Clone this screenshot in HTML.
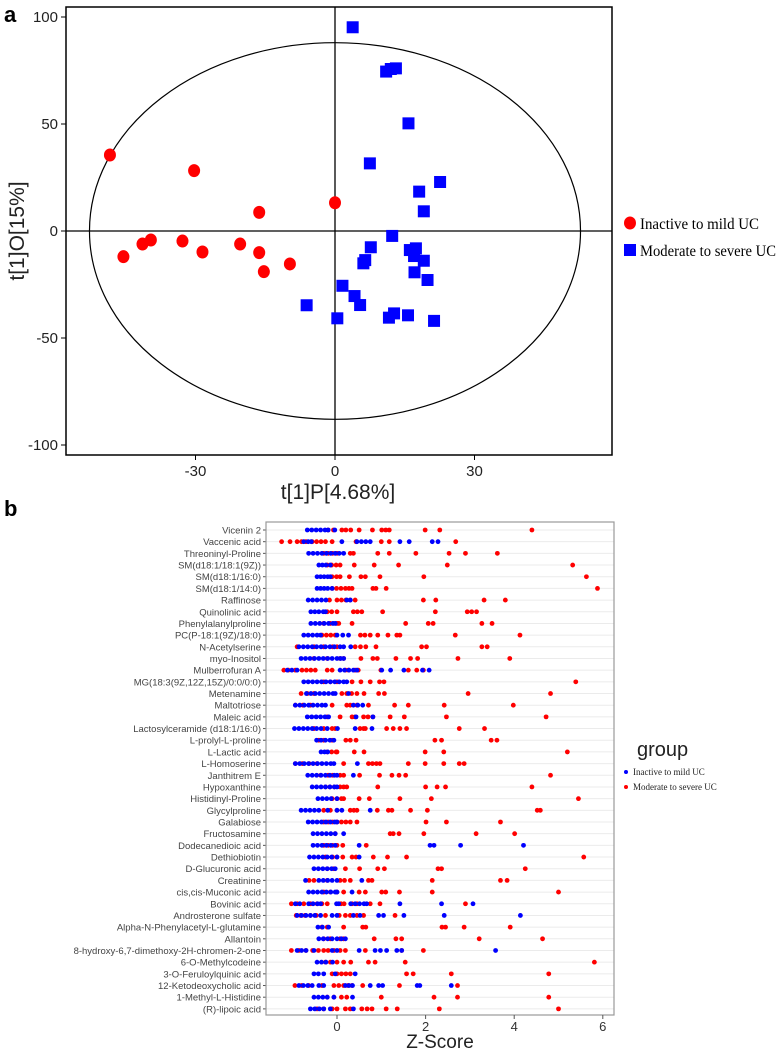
<!DOCTYPE html>
<html><head><meta charset="utf-8"><style>
body{margin:0;background:#fff;}
svg{display:block;}
</style></head><body>
<svg id="chart" width="778" height="1049" xmlns="http://www.w3.org/2000/svg">
<text x="4" y="22" font-family="Liberation Sans, sans-serif" font-weight="bold" font-size="22">a</text>
<text x="4" y="516" font-family="Liberation Sans, sans-serif" font-weight="bold" font-size="22">b</text>
<g id="pa"></g>
<g id="pb"></g>
</svg>
<script>
// ---------- Panel a data ----------
const redX=[-48.4,-30.3,0,-16.3,-45.5,-41.4,-39.6,-32.8,-28.5,-20.4,-16.3,-15.3,-9.7];
const redY=[35.5,28.2,13.2,8.7,-12,-6.1,-4.2,-4.7,-9.8,-6.1,-10.1,-19,-15.4];
const blueX=[3.8,11,13.1,12,15.8,7.5,22.6,18.1,19.1,12.3,7.7,16.1,17.4,17,19.1,6.5,6.1,17.1,19.9,1.6,4.2,5.4,-6.1,0.5,11.6,12.7,15.7,21.3];
const blueY=[95.2,74.5,76,75.7,50.3,31.6,22.9,18.4,9.2,-2.3,-7.6,-8.9,-8.1,-11.7,-13.9,-13.6,-15.1,-19.3,-22.9,-25.6,-30.4,-34.6,-34.7,-40.8,-40.5,-38.5,-39.4,-42];
const aXTicks=[-30,0,30];
const aYTicks=[100,50,0,-50,-100];

// ---------- Panel b data ----------
const metabolites=["Vicenin 2","Vaccenic acid","Threoninyl-Proline","SM(d18:1/18:1(9Z))","SM(d18:1/16:0)","SM(d18:1/14:0)","Raffinose","Quinolinic acid","Phenylalanylproline","PC(P-18:1(9Z)/18:0)","N-Acetylserine","myo-Inositol","Mulberrofuran A","MG(18:3(9Z,12Z,15Z)/0:0/0:0)","Metenamine","Maltotriose","Maleic acid","Lactosylceramide (d18:1/16:0)","L-prolyl-L-proline","L-Lactic acid","L-Homoserine","Janthitrem E","Hypoxanthine","Histidinyl-Proline","Glycylproline","Galabiose","Fructosamine","Dodecanedioic acid","Dethiobiotin","D-Glucuronic acid","Creatinine","cis,cis-Muconic acid","Bovinic acid","Androsterone sulfate","Alpha-N-Phenylacetyl-L-glutamine","Allantoin","8-hydroxy-6,7-dimethoxy-2H-chromen-2-one","6-O-Methylcodeine","3-O-Feruloylquinic acid","12-Ketodeoxycholic acid","1-Methyl-L-Histidine","(R)-lipoic acid"];
const blueZ=[
[-0.67,-0.57,-0.47,-0.37,-0.27,-0.2,-0.05],
[-0.75,-0.65,-0.58,0.11,0.45,0.55,0.65,0.75,1.42,1.63,2.15,2.28],
[-0.64,-0.54,-0.44,-0.34,-0.24,-0.14,-0.04,0.05,0.15],
[-0.41,-0.33,-0.25,-0.15],
[-0.45,-0.37,-0.29,-0.21,-0.15],
[-0.45,-0.37,-0.29,-0.21,-0.11],
[-0.65,-0.55,-0.45,-0.35,-0.25,0.22,0.3],
[-0.59,-0.5,-0.41,-0.31,-0.26],
[-0.59,-0.49,-0.39,-0.29,-0.19,-0.09,-0.04],
[-0.75,-0.65,-0.55,-0.45,-0.37,0.0,0.13,0.26],
[-0.86,-0.76,-0.66,-0.56,-0.46,-0.36,-0.26,-0.16,-0.06,0.07,0.15,0.31],
[-0.81,-0.71,-0.61,-0.51,-0.41,-0.31,-0.21,-0.11,0.0,0.08,0.15],
[-1.12,-1.02,-0.9,0.07,0.17,0.27,0.37,0.45,1.01,1.21,1.51,1.93,2.08],
[-0.75,-0.65,-0.55,-0.45,-0.35,-0.25,-0.15,-0.05,0.05,0.15,0.22],
[-0.69,-0.59,-0.49,-0.39,-0.29,-0.19,-0.09,-0.04,0.26],
[-0.94,-0.84,-0.74,-0.64,-0.54,-0.44,-0.34,-0.26,0.37,0.47,0.58],
[-0.67,-0.57,-0.47,-0.37,-0.27,-0.19,0.43,0.81],
[-0.96,-0.86,-0.76,-0.66,-0.56,-0.46,-0.36,-0.22,0.01,0.41,0.79],
[-0.46,-0.36,-0.26,-0.16,-0.07],
[-0.36,-0.28,-0.21],
[-0.94,-0.84,-0.74,-0.64,-0.54,-0.44,-0.34,-0.24,-0.14,-0.07,0.46],
[-0.66,-0.56,-0.46,-0.36,-0.26,-0.16,-0.06,0.0,0.37],
[-0.56,-0.46,-0.36,-0.26,-0.16,-0.06,0.0],
[-0.43,-0.33,-0.23,-0.13,0.0],
[-0.81,-0.71,-0.61,-0.51,-0.41,-0.21,0.0,0.11,0.75],
[-0.65,-0.55,-0.45,-0.35,-0.25,-0.15,-0.05,0.0],
[-0.54,-0.44,-0.34,-0.24,-0.14,-0.04,0.15],
[-0.54,-0.44,-0.34,-0.24,-0.14,-0.04,0.5,2.1,2.19,2.79,4.21],
[-0.62,-0.52,-0.42,-0.32,-0.22,-0.12,0.0,0.5],
[-0.52,-0.42,-0.32,-0.22,-0.12,-0.04],
[-0.71,-0.41,-0.31,-0.21,-0.11,0.0,0.56],
[-0.64,-0.54,-0.44,-0.34,-0.24,-0.14,-0.04,0.0,0.34],
[-0.94,-0.84,-0.64,-0.54,-0.44,-0.37,-0.01,0.04,0.31,0.41,0.51,0.61,0.67,1.42,2.36,3.07],
[-0.9,-0.8,-0.7,-0.6,-0.5,-0.37,-0.11,0.0,0.37,0.52,0.94,1.05,1.51,2.42,4.14],
[-0.43,-0.33,-0.19],
[-0.41,-0.31,-0.21,-0.11,0.0,0.1,0.19],
[-0.9,-0.8,-0.7,-0.52,-0.11,0.0,0.5,0.86,0.98,1.12,1.35,1.46,3.58],
[-0.45,-0.35,-0.25,-0.1],
[-0.52,-0.42,-0.3,-0.04,0.41],
[-0.86,-0.76,-0.66,-0.56,-0.41,-0.3,0.19,0.27,0.35,0.75,0.94,1.03,1.81,1.87,2.58],
[-0.52,-0.42,-0.32,-0.22,-0.07,0.35],
[-0.6,-0.5,-0.4,-0.3,-0.15,0.37]];
const redZ=[
[-0.2,-0.08,0.11,0.2,0.31,0.5,0.8,1.01,1.1,1.18,1.99,2.32,4.4],
[-1.25,-1.06,-0.9,-0.8,-0.7,-0.56,-0.46,-0.36,-0.26,-0.11,0.43,1.0,1.18,2.68],
[-0.3,-0.2,-0.1,0.0,0.3,0.37,0.92,1.18,1.78,2.53,2.9,3.62],
[-0.22,-0.12,-0.02,0.07,0.39,0.84,1.39,2.49,5.32],
[-0.11,-0.01,0.07,0.28,0.54,0.64,0.97,1.96,5.63],
[-0.11,-0.01,0.09,0.19,0.27,0.34,0.81,0.88,1.11,5.88],
[-0.17,0.0,0.1,0.2,0.3,0.41,1.95,2.23,3.32,3.8],
[-0.22,-0.12,0.0,0.37,0.46,0.56,1.03,2.22,2.94,3.04,3.15],
[-0.3,-0.15,0.0,0.04,0.34,1.55,2.06,2.17,3.27,3.5],
[-0.34,-0.24,-0.14,-0.04,0.53,0.63,0.75,0.92,1.15,1.35,1.42,2.67,4.13],
[-0.9,-0.52,-0.3,-0.1,0.0,0.41,0.53,0.65,0.88,1.91,2.02,3.27,3.39],
[-0.52,-0.22,0.07,0.15,0.54,0.81,0.91,1.33,1.66,1.82,2.73,3.9],
[-1.2,-1.1,-0.94,-0.79,-0.69,-0.59,-0.49,-0.22,-0.11,0.19,0.26,0.41,0.48,0.99,1.61,1.8,1.95],
[-0.3,-0.15,0.0,0.34,0.54,0.75,0.96,1.06,5.39],
[-0.81,-0.67,-0.52,0.11,0.22,0.33,0.45,0.61,0.94,1.07,2.96,4.82],
[-0.94,-0.77,-0.6,-0.11,0.22,0.3,0.45,0.71,1.3,1.61,2.42,3.98],
[-0.22,0.07,0.34,0.41,0.6,0.7,0.81,1.2,1.52,2.47,4.72],
[-0.52,-0.3,-0.11,-0.04,0.52,0.6,0.64,1.12,1.27,1.42,1.57,2.76,3.33],
[-0.41,-0.3,-0.11,0.2,0.3,0.43,2.21,2.36,3.48,3.61],
[-0.22,-0.12,-0.02,0.0,0.39,0.61,1.99,2.41,5.2],
[-0.94,-0.78,-0.63,-0.45,0.15,0.71,0.8,0.89,0.97,1.61,1.99,2.41,2.76,2.87],
[-0.37,-0.2,-0.1,0.07,0.15,0.51,0.96,1.24,1.4,1.55,4.82],
[-0.26,-0.16,-0.06,0.07,0.15,0.22,0.92,2.0,2.26,2.45,4.4],
[-0.11,0.0,0.1,0.15,0.5,0.73,1.42,2.13,5.45],
[-0.3,-0.15,0.0,0.3,0.38,0.45,0.91,1.16,1.24,1.66,2.04,4.52,4.59],
[-0.3,-0.2,-0.1,0.0,0.1,0.2,0.3,0.45,2.01,2.47,3.69],
[-0.04,1.2,1.27,1.4,1.96,3.14,4.01],
[-0.3,-0.2,-0.1,0.0,0.13,0.66],
[-0.26,-0.1,0.0,0.13,0.34,0.43,0.82,1.14,1.57,5.57],
[-0.22,-0.07,0.19,0.51,0.92,1.07,2.28,2.36,4.25],
[-0.63,-0.52,-0.22,0.07,0.17,0.3,0.71,0.79,2.15,3.69,3.84],
[-0.3,-0.15,0.0,0.15,0.5,0.64,1.01,1.1,1.41,2.15,5.0],
[-1.03,-0.9,-0.75,-0.6,-0.45,-0.34,-0.22,0.09,0.16,0.34,0.45,0.75,0.97,2.9],
[-0.92,-0.82,-0.72,-0.6,-0.47,-0.26,0.05,0.19,0.3,0.45,0.6,1.31],
[-0.34,-0.22,0.15,0.58,0.65,2.37,2.45,2.87,3.91],
[-0.3,-0.15,0.07,0.15,0.84,1.33,1.46,3.21,4.64],
[-1.03,-0.86,-0.7,-0.55,-0.42,-0.3,-0.2,-0.07,0.07,0.19,0.64,1.46,1.95],
[-0.26,-0.15,0.0,0.15,0.31,0.71,0.86,1.54,5.81],
[-0.11,0.0,0.1,0.2,0.3,1.57,1.72,2.58,4.78],
[-0.95,-0.8,-0.64,-0.34,-0.07,0.04,0.15,0.25,0.34,0.58,1.41,2.72],
[-0.22,-0.07,0.1,0.22,1.0,2.19,2.72,4.78],
[-0.45,-0.3,-0.11,0.0,0.19,0.3,0.56,0.68,0.79,1.11,1.36,2.31,5.0]];
const bXTicks=[0,2,4,6];

const NS="http://www.w3.org/2000/svg";
function mk(parent,tag,attrs,text){const e=document.createElementNS(NS,tag);for(const k in attrs)e.setAttribute(k,attrs[k]);if(text!==undefined)e.textContent=text;parent.appendChild(e);return e;}

// ---------- Panel a ----------
const pa=document.getElementById('pa');
const ax=v=>335+v*4.65, ay=v=>231-v*2.14;
let e;
e=mk(pa,'rect',{x:66,y:7,width:546,height:448,fill:'none',stroke:'#000','stroke-width':1.5});


e=mk(pa,'ellipse',{cx:ax(0),cy:ay(0),rx:52.8*4.65,ry:88*2.14,fill:'none',stroke:'#000','stroke-width':1.2});


e=mk(pa,'line',{x1:66,x2:612,y1:ay(0),y2:ay(0),stroke:'#000','stroke-width':1.3});


e=mk(pa,'line',{x1:ax(0),x2:ax(0),y1:7,y2:455,stroke:'#000','stroke-width':1.3});


aXTicks.forEach(t=>{
  mk(pa,'line',{x1:ax(t),x2:ax(t),y1:455,y2:460,stroke:'#000'});
  e=mk(pa,'text',{x:ax(t),y:476,'text-anchor':'middle','font-family':'Liberation Sans, sans-serif','font-size':15,fill:'#222'},String(t));
  
  
});
aYTicks.forEach(t=>{
  mk(pa,'line',{x1:61,x2:66,y1:ay(t),y2:ay(t),stroke:'#000'});
  e=mk(pa,'text',{x:58,y:ay(t)+5,'text-anchor':'end','font-family':'Liberation Sans, sans-serif','font-size':15,fill:'#222'},String(t));
  
  
});
e=mk(pa,'text',{x:338,y:499,'text-anchor':'middle','font-family':'Liberation Sans, sans-serif','font-size':21,fill:'#222'},'t[1]P[4.68%]');


e=mk(pa,'text',{x:0,y:0,'text-anchor':'middle','font-family':'Liberation Sans, sans-serif','font-size':21,fill:'#222',transform:'translate(24,231) rotate(-90)'},'t[1]O[15%]');


redX.forEach((v,i)=>{
  e=mk(pa,'ellipse',{cx:ax(v),cy:ay(redY[i]),rx:6,ry:6.5,fill:'#ff0000'});
  
  
});
blueX.forEach((v,i)=>{
  e=mk(pa,'rect',{x:ax(v)-6,y:ay(blueY[i])-6,width:12,height:12,fill:'#0000ff'});
  
  
});
e=mk(pa,'ellipse',{cx:630,cy:223,rx:6,ry:6.5,fill:'#ff0000'});


e=mk(pa,'text',{x:640,y:229,'font-family':'Liberation Serif, serif','font-size':16,fill:'#000',textLength:119,lengthAdjust:'spacingAndGlyphs'},'Inactive to mild UC');


e=mk(pa,'rect',{x:624,y:244,width:12,height:12,fill:'#0000ff'});


e=mk(pa,'text',{x:640,y:256,'font-family':'Liberation Serif, serif','font-size':16,fill:'#000',textLength:136,lengthAdjust:'spacingAndGlyphs'},'Moderate to severe UC');



// ---------- Panel b ----------
const pb=document.getElementById('pb');
const bx=v=>337+v*44.3, by=i=>530+i*11.68;
metabolites.forEach((m,i)=>{
  e=mk(pb,'line',{x1:266,x2:614,y1:by(i),y2:by(i),stroke:'#ebebeb','stroke-width':1});
  
  
  mk(pb,'line',{x1:263,x2:266,y1:by(i),y2:by(i),stroke:'#555'});
  e=mk(pb,'text',{x:261,y:by(i)+3.5,'text-anchor':'end','font-family':'Liberation Sans, sans-serif','font-size':9.5,fill:'#444'},m);
  
  
});
e=mk(pb,'rect',{x:266,y:522,width:348,height:493,fill:'none',stroke:'#999','stroke-width':1.2});


bXTicks.forEach(t=>{
  mk(pb,'line',{x1:bx(t),x2:bx(t),y1:1015,y2:1019,stroke:'#555'});
  e=mk(pb,'text',{x:bx(t),y:1031,'text-anchor':'middle','font-family':'Liberation Sans, sans-serif','font-size':13,fill:'#333'},String(t));
  
  
});
e=mk(pb,'text',{x:440,y:1048,'text-anchor':'middle','font-family':'Liberation Sans, sans-serif','font-size':19,fill:'#222'},'Z-Score');


redZ.forEach((row,i)=>row.forEach(v=>{
  e=mk(pb,'circle',{cx:bx(v),cy:by(i),r:2.4,fill:'#ff0000'});
  
  
}));
blueZ.forEach((row,i)=>row.forEach(v=>{
  e=mk(pb,'circle',{cx:bx(v),cy:by(i),r:2.4,fill:'#0000ff'});
  
  
}));
e=mk(pb,'text',{x:637,y:756,'font-family':'Liberation Sans, sans-serif','font-size':20,fill:'#222'},'group');


e=mk(pb,'circle',{cx:626,cy:772,r:2,fill:'#0000ff'});


e=mk(pb,'text',{x:633,y:775,'font-family':'Liberation Serif, serif','font-size':9,fill:'#222'},'Inactive to mild UC');


e=mk(pb,'circle',{cx:626,cy:787,r:2,fill:'#ff0000'});


e=mk(pb,'text',{x:633,y:790,'font-family':'Liberation Serif, serif','font-size':9,fill:'#222'},'Moderate to severe UC');


</script>
</body></html>
